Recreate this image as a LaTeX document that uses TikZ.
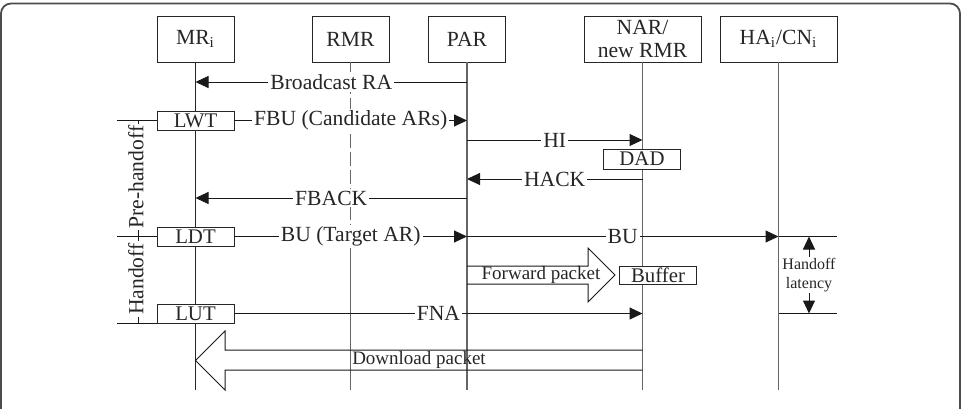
\documentclass[tikz,border=0pt]{standalone}
\usepackage{fontspec}
\setmainfont{Liberation Serif}
\usetikzlibrary{arrows.meta}
\begin{document}
\begin{tikzpicture}[x=0.5pt,y=-0.5pt,
  ent/.style={draw=black!85, fill=white, inner sep=0pt, minimum width=38.5pt, minimum height=23pt, align=center, text=black!85, font=\fontsize{10.8}{11.5}\selectfont},
  wideent/.style={ent, minimum width=58.5pt},
  tag/.style={draw=black!85, fill=white, inner sep=0pt, minimum width=38.5pt, minimum height=9.5pt, text=black!85, font=\fontsize{10.4}{12}\selectfont},
  life/.style={draw=black!60, line width=0.6pt},
  plain/.style={draw=black!90, line width=0.5pt},
  msg/.style={plain, -{Triangle[length=6.5pt,width=6pt]}},
  lbl/.style={fill=white, inner sep=1pt, text=black!85, font=\fontsize{10.8}{12}\selectfont},
  pkt/.style={inner sep=0.5pt, text=black!85, font=\fontsize{9.5}{11}\selectfont},
  small/.style={inner sep=0.5pt, align=center, text=black!85, font=\fontsize{8}{9.5}\selectfont}]
\useasboundingbox (0,0) rectangle (971,408);
\draw[draw=black!70, line width=0.9pt, rounded corners=5pt] (1,3.5) rectangle (960,470);
\node[ent] (mr) at (195.5,39) {MR$_\mathrm{i}$};
\node[ent] (rmr) at (350.5,39) {RMR};
\node[ent] (par) at (467,39) {PAR};
\node[wideent] (nar) at (642.5,39) {NAR/\\new RMR};
\node[wideent] (ha) at (778.5,39) {HA$_\mathrm{i}$/CN$_\mathrm{i}$};
\coordinate (bot) at (0,390);
\coordinate (ra) at (0,82);
\coordinate (hi) at (0,140);
\coordinate (hack) at (0,179);
\coordinate (fback) at (0,198);
\coordinate (tk) at (117,0);
\coordinate (brk) at (138,0);
\coordinate (lr) at (837,0);
\draw[life, draw=black!85] (mr.south) -- (mr.south |- bot);
\draw[life, dash pattern=on 7pt off 2pt] (rmr.south) -- (rmr |- 0,236.5);
\draw[life] (rmr |- 0,236.5) -- (rmr |- bot);
\draw[life] (par.south) -- (par |- bot);
\draw[life] (nar.south) -- (nar |- bot);
\draw[life] (ha.south) -- (ha |- bot);
\node[tag] (lwt) at (195.5,120.5) {LWT};
\node[tag] (ldt) at (195.5,236.5) {LDT};
\node[tag] (lut) at (195.5,313.5) {LUT};
\node[tag, minimum height=10pt] (dad) at (642,159) {DAD};
\node[tag, minimum height=9pt] (buf) at (658,275) {Buffer};
\draw[plain] (lwt.west) -- (lwt -| tk);
\draw[plain] (ldt.west) -- (ldt -| tk);
\draw[plain] (lut.south west) -- (lut.south -| tk);
\draw[plain] (lwt -| brk) -- (lut.south -| brk);
\node[lbl, rotate=90] (pre) at (136,177) {Pre-handoff};
\node[lbl, rotate=90] (hof) at (136,279) {Handoff};
\draw[msg] (par |- ra) -- node[lbl] {Broadcast RA} (mr |- ra);
\draw[msg] (lwt.east) -- node[lbl] {FBU (Candidate ARs)} (lwt -| par);
\draw[msg] (par |- hi) -- node[lbl] {HI} (nar |- hi);
\draw[msg] (nar |- hack) -- node[lbl] {HACK} (par |- hack);
\draw[msg] (par |- fback) -- node[lbl] {FBACK} (mr |- fback);
\draw[msg] (ldt.east) -- node[lbl] {BU (Target AR)} (ldt -| par);
\draw[msg] (ldt -| par) -- node[lbl] {BU} (ldt -| ha);
\draw[msg] (lut.east) -- node[lbl] {FNA} (lut -| nar);
\draw[plain] (ldt -| ha) -- (ldt -| lr);
\draw[plain] (lut -| ha) -- (lut -| lr);
\node[small] (lat) at (809,275) {Handoff\\latency};
\draw[msg] (lat.north) -- (lat.north |- ldt);
\draw[msg] (lat.south) -- (lat.south |- lut);
\draw[plain] (par |- 0,266) -- (588,266) -- (588,248) -- (615,275) -- (588,302) -- (588,284) -- (par |- 0,284);
\node[pkt] (fwd) at (541,275) {Forward packet};
\draw[plain] (nar |- 0,350) -- (225,350) -- (225,331) -- (mr |- 0,360.5) -- (225,390) -- (225,370) -- (nar |- 0,370);
\node[pkt] (dl) at (419,360) {Download packet};
\end{tikzpicture}
\end{document}
